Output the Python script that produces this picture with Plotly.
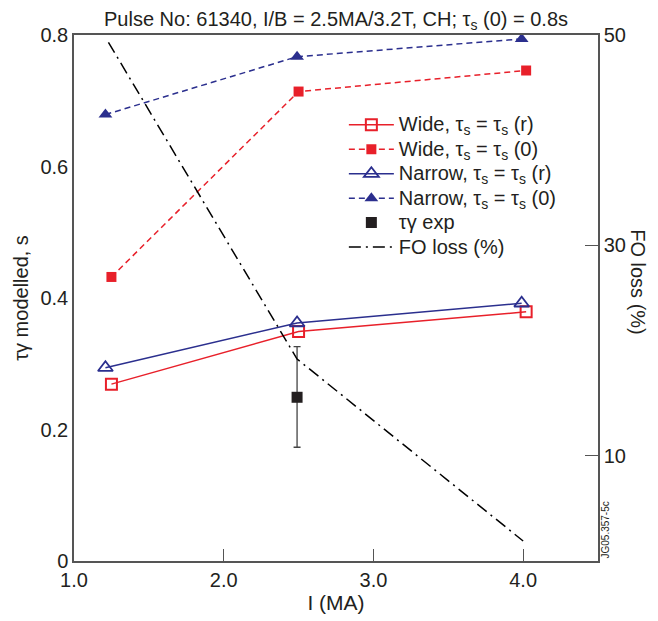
import plotly.graph_objects as go

# ---- data ----
wide_x = [1.25, 2.50, 4.02]
wide_r = [0.269, 0.349, 0.379]
wide_0 = [0.432, 0.714, 0.746]
narrow_x = [1.21, 2.49, 3.99]
narrow_r = [0.294, 0.362, 0.392]
narrow_0 = [0.679, 0.767, 0.794]
exp_x = [2.49]
exp_y = [0.249]
exp_err_plus = [0.077]
exp_err_minus = [0.076]
fo_x = [1.23, 2.49, 4.00]
fo_loss = [49.3, 19.2, 1.9]

x_ticks = [1.0, 2.0, 3.0, 4.0]
x_ticktext = ["1.0", "2.0", "3.0", "4.0"]
y_ticks = [0, 0.2, 0.4, 0.6, 0.8]
y_ticktext = ["0", "0.2", "0.4", "0.6", "0.8"]
y2_ticks = [10, 30, 50]

RED = "#e8202a"
BLUE = "#2b2f8e"
INK = "#231f20"
AX = "#555555"
FONT = "Liberation Sans, Arial, sans-serif"


def big(t):
    return '<span style="font-size:20px">' + t + '</span>'


fig = go.Figure()
fig.add_trace(go.Scatter(x=wide_x, y=wide_r, mode="lines+markers",
    name=big("Wide, τ<sub>s</sub> = τ<sub>s</sub> (r)"),
    line=dict(color=RED, width=1.5),
    marker=dict(symbol="square-open", size=11, color=RED, line=dict(width=2, color=RED))))
fig.add_trace(go.Scatter(x=wide_x, y=wide_0, mode="lines+markers",
    name=big("Wide, τ<sub>s</sub> = τ<sub>s</sub> (0)"),
    line=dict(color=RED, width=1.5, dash="6px,4px"),
    marker=dict(symbol="square", size=10, color=RED)))
fig.add_trace(go.Scatter(x=narrow_x, y=narrow_r, mode="lines+markers",
    name=big("Narrow, τ<sub>s</sub> = τ<sub>s</sub> (r)"),
    line=dict(color=BLUE, width=1.5),
    marker=dict(symbol="triangle-up-open", size=13, color=BLUE, line=dict(width=1.8, color=BLUE))))
fig.add_trace(go.Scatter(x=narrow_x, y=narrow_0, mode="lines+markers",
    name=big("Narrow, τ<sub>s</sub> = τ<sub>s</sub> (0)"),
    line=dict(color=BLUE, width=1.5, dash="6px,4px"),
    marker=dict(symbol="triangle-up", size=12, color=BLUE)))
fig.add_trace(go.Scatter(x=exp_x, y=exp_y, mode="markers",
    name=big("τγ exp"),
    marker=dict(symbol="square", size=11, color=INK),
    error_y=dict(type="data", array=exp_err_plus, arrayminus=exp_err_minus,
                 color="#444444", thickness=1.3, width=3.5)))
fig.add_trace(go.Scatter(x=fo_x, y=fo_loss, mode="lines", yaxis="y2",
    name=big("FO loss (%)"),
    line=dict(color="black", width=1.5, dash="12px,5px,2px,5px")))

fig.update_layout(
    width=650, height=613,
    margin=dict(l=60, r=60, t=27, b=56),
    paper_bgcolor="white", plot_bgcolor="white",
    font=dict(family=FONT, size=20, color=INK),
    showlegend=True,
    legend=dict(x=0.515, y=0.862, xanchor="left", yanchor="top",
                bgcolor="rgba(0,0,0,0)", font=dict(size=16.5, color=INK),
                tracegroupgap=0, itemwidth=45),
    xaxis=dict(range=[1.0, 4.5], tickvals=x_ticks, ticktext=x_ticktext,
               ticks="inside", ticklen=12, tickcolor=AX, tickwidth=1.2,
               showline=True, linecolor=AX, linewidth=1.5, mirror=True,
               showgrid=False, zeroline=False,
               title=dict(text="I (MA)", standoff=4, font=dict(size=21))),
    yaxis=dict(range=[0, 0.8], tickvals=y_ticks, ticktext=y_ticktext,
               ticks="", showline=True, linecolor=AX, linewidth=1.5,
               showgrid=False, zeroline=False,
               title=dict(text="τγ modelled, s", standoff=6, font=dict(size=20))),
    yaxis2=dict(range=[0, 50], overlaying="y", side="right", tickvals=y2_ticks,
                ticks="inside", ticklen=13, tickcolor=AX, tickwidth=1.2,
                showline=True, linecolor=AX, linewidth=1.5,
                showgrid=False, zeroline=False),
    annotations=[
        dict(text="Pulse No: 61340, I/B = 2.5MA/3.2T, CH; τ<sub>s</sub> (0) = 0.8s",
             xref="paper", yref="paper", x=0.5, y=1.0, yanchor="bottom",
             xanchor="center", showarrow=False, font=dict(size=20, color=INK), yshift=0),
        dict(text="FO loss (%)", textangle=90, xref="paper", yref="paper",
             x=1.0, xshift=40, y=0.53, xanchor="center", yanchor="middle",
             showarrow=False, font=dict(size=20, color=INK)),
        dict(text="JG05.357-5c", textangle=-90, xref="paper", yref="paper",
             x=1.0, xshift=7, y=0.0, xanchor="center", yanchor="bottom",
             showarrow=False, font=dict(size=10, color=INK)),
    ],
)

fig.write_html("out.html")
